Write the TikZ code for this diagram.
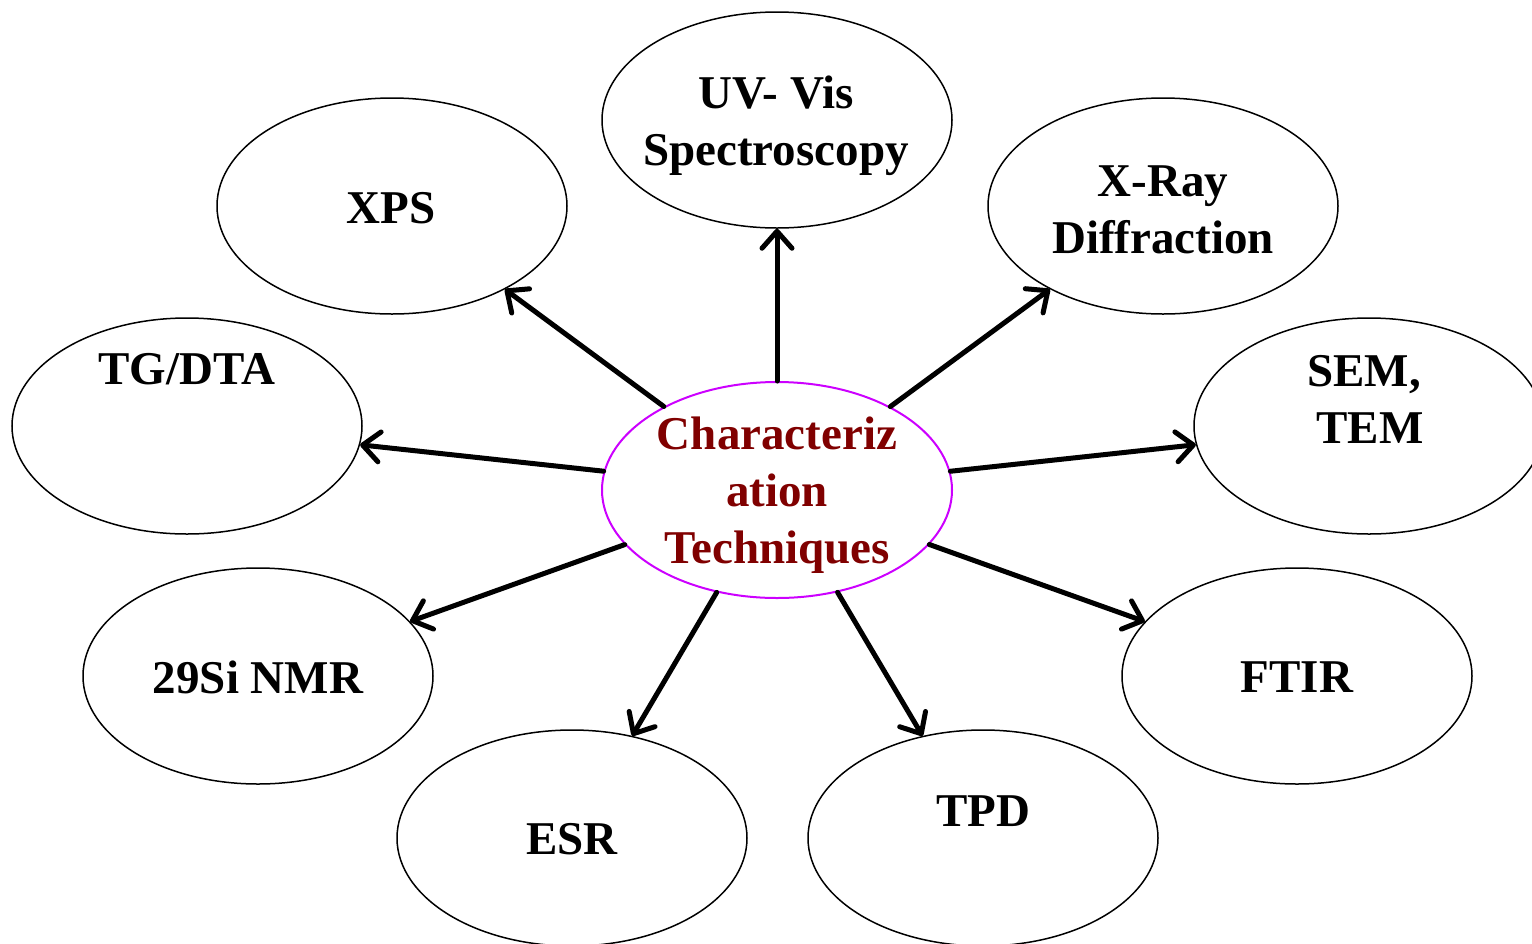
\documentclass[tikz,border=0pt]{standalone}
\usepackage{fontspec}
\setmainfont{Liberation Serif}
\usetikzlibrary{arrows.meta,shapes.geometric}
\definecolor{dred}{RGB}{128,0,0}
\definecolor{mag}{RGB}{204,0,255}
\begin{document}
\begin{tikzpicture}[x=0.5pt,y=-0.5pt,
  tech/.style={ellipse,draw,line width=0.75pt,minimum width=175pt,minimum height=108pt,inner sep=0pt},
  lbl/.style={font=\fontsize{23.5}{28.5}\selectfont\bfseries,align=center,inner sep=0pt},
  arr/.style={line width=2.5pt,line cap=round,-{Straight Barb[length=8.5pt,width=15pt,round]}}]
\useasboundingbox (0,0) rectangle (1532,943);
% ellipses
\node[tech,draw=mag,line width=1pt] (c) at (777,490) {};
\node[tech] (uv) at (777,120) {};
\node[tech] (xps) at (392,206) {};
\node[tech] (xrd) at (1163,206) {};
\node[tech] (tg) at (187,426) {};
\node[tech] (sem) at (1369,426) {};
\node[tech] (nmr) at (258,676) {};
\node[tech] (ftir) at (1297,676) {};
\node[tech] (esr) at (572,838) {};
\node[tech] (tpd) at (983,838) {};
% texts
\node[lbl,text=dred] (ct) at (777,495) {Characteriz\\ation\\Techniques};
\node[lbl] (uvt) at (776,126) {UV- Vis\\Spectroscopy};
\node[lbl] (xpst) at (391,208) {XPS};
\node[lbl] (xrdt) at (1163,210) {X-Ray\\Diffraction};
\node[lbl] (tgt) at (187,369) {TG/DTA};
\node[lbl] (semt) at (1364,399) {SEM,\\\ TEM};
\node[lbl] (nmrt) at (258,677) {29Si NMR};
\node[lbl] (ftirt) at (1297,677) {FTIR};
\node[lbl] (esrt) at (572,839) {ESR};
\node[lbl] (tpdt) at (983,811) {TPD};
% arrows
\foreach \t in {uv,xps,xrd,tg,sem,nmr,ftir,esr,tpd}
  \draw[arr] (c) -- (\t);
\end{tikzpicture}
\end{document}
